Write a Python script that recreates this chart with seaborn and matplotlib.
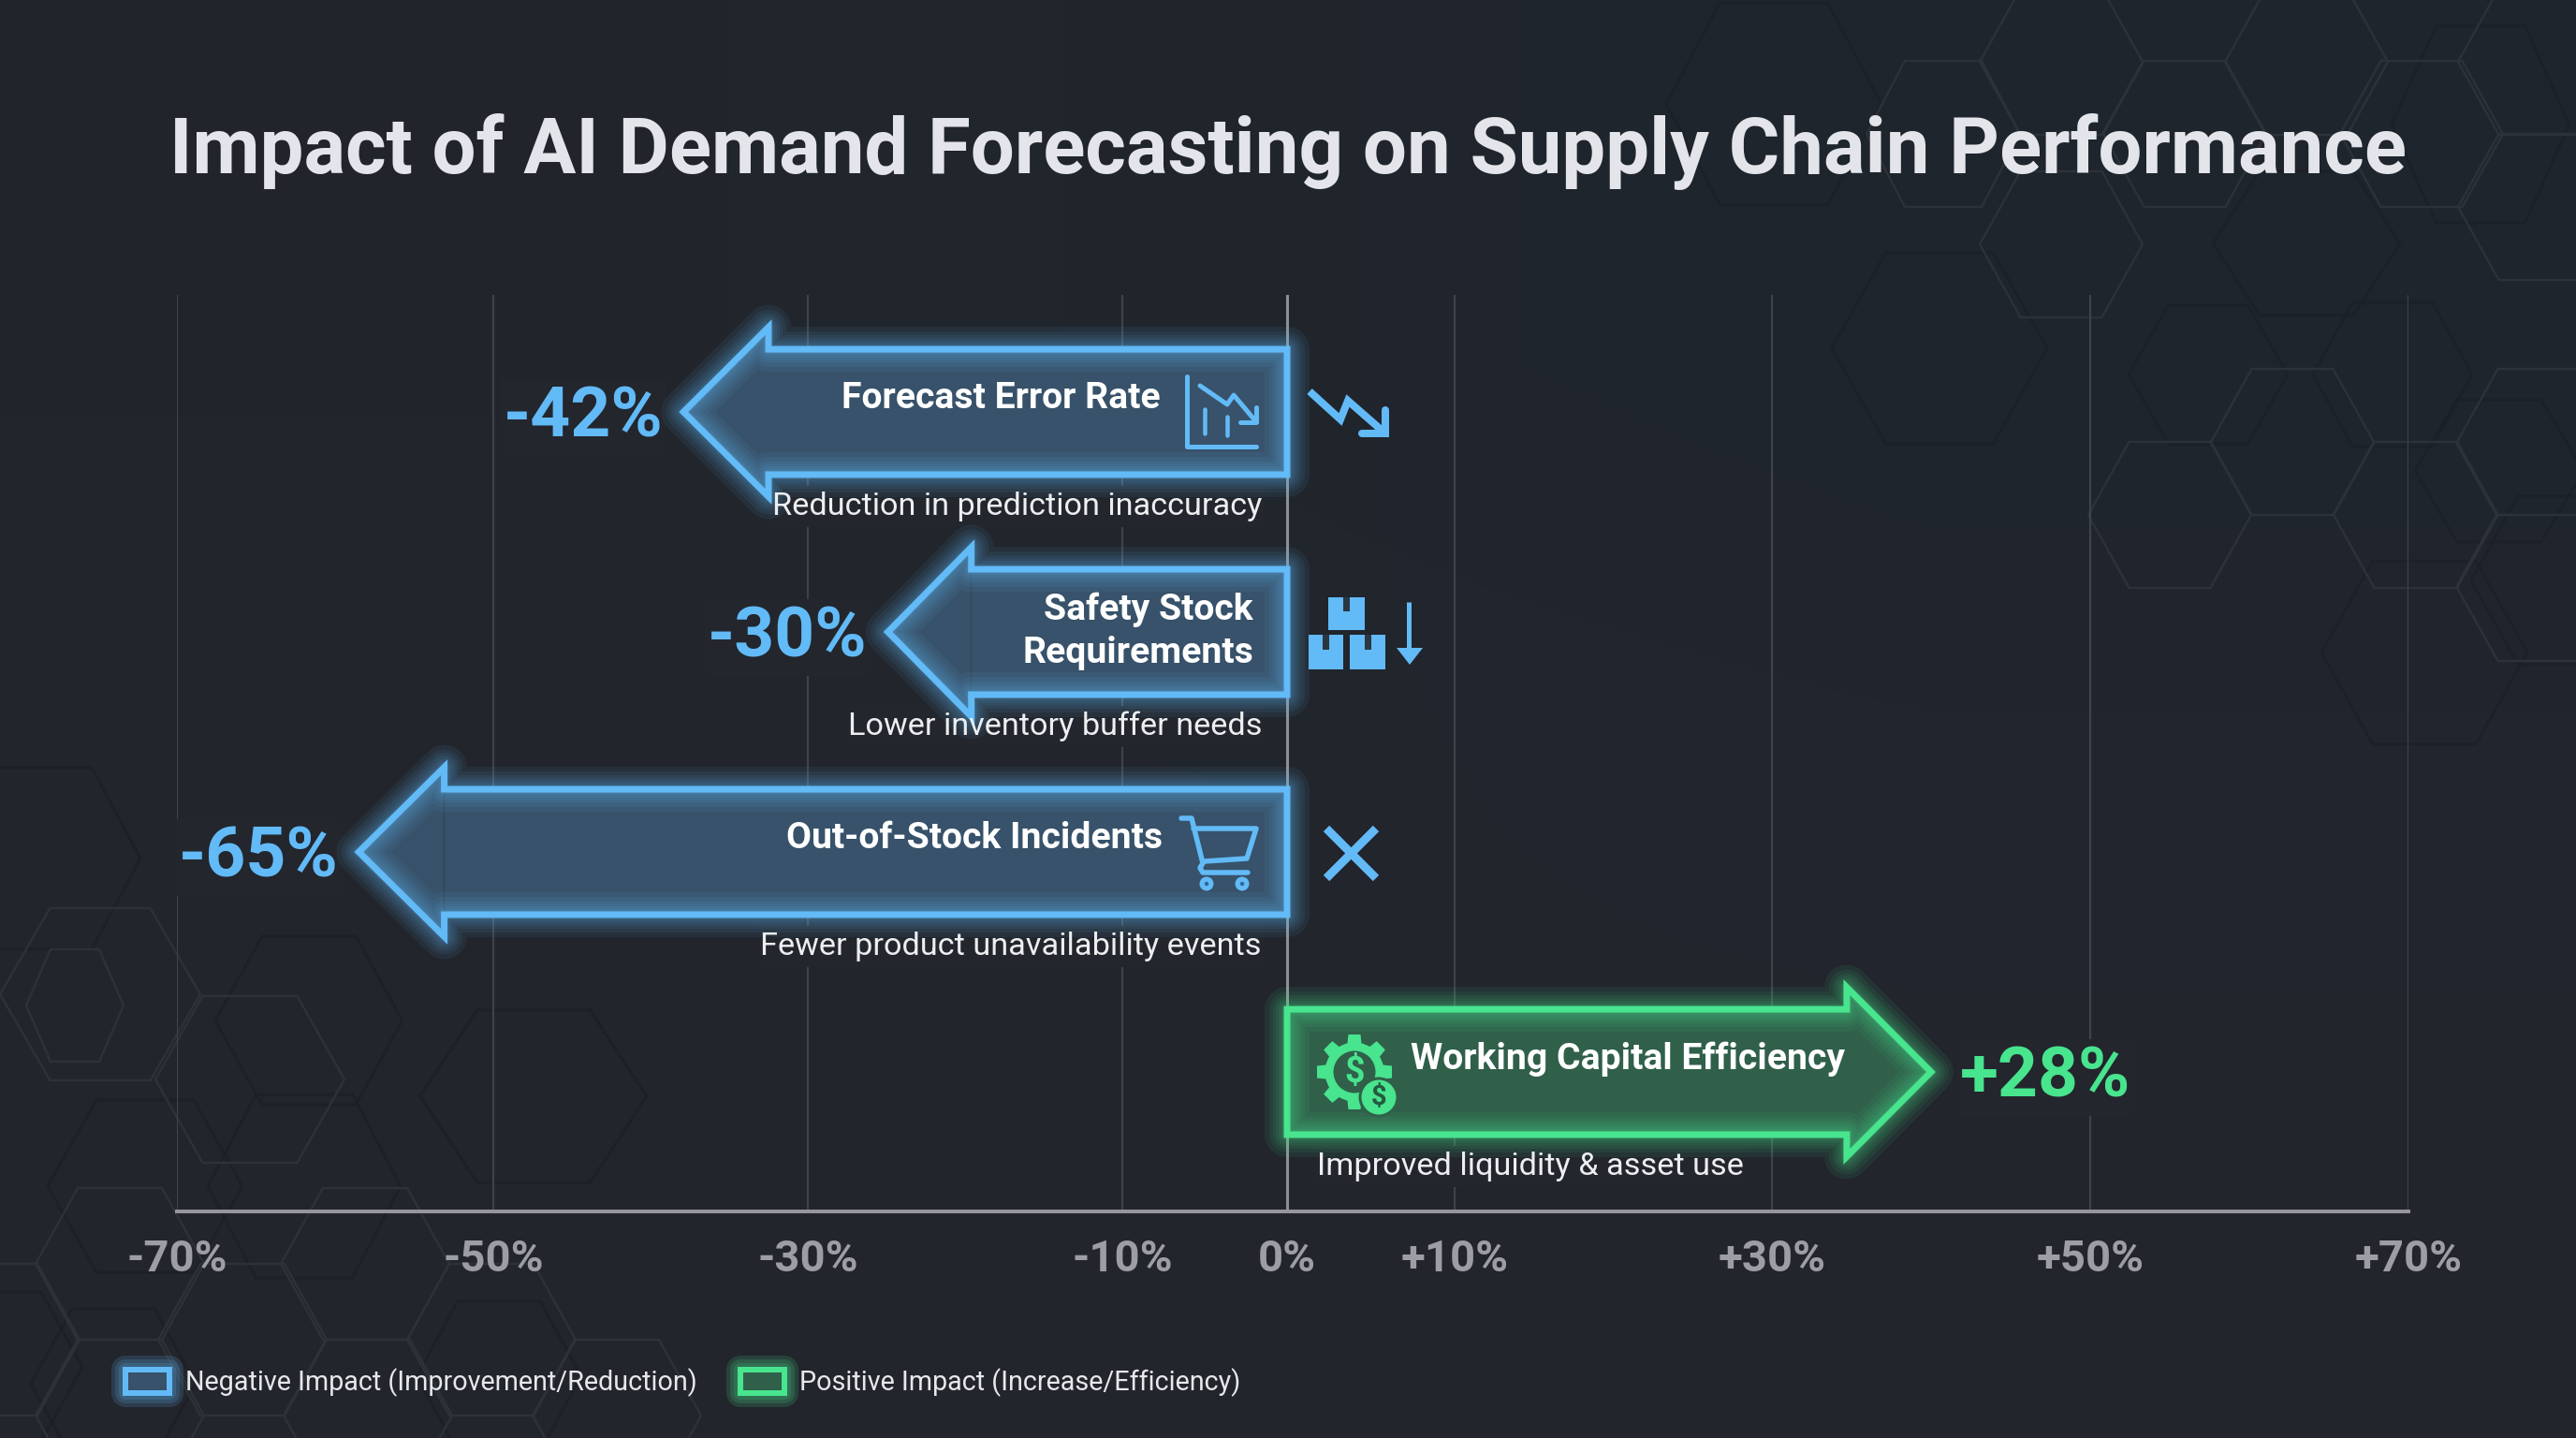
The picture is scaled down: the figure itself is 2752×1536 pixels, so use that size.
import numpy as np
import pandas as pd
import matplotlib.pyplot as plt
import seaborn as sns
from matplotlib.patches import Patch, Polygon, Circle, Rectangle
from matplotlib.patheffects import Stroke, Normal
from matplotlib.transforms import IdentityTransform

# chart data. the printed value and the drawn length differ in the source picture,
# so both are kept: arrow_tips / arrow_necks are read off the axis
metrics = ["Forecast Error Rate", "Safety Stock\nRequirements", "Out-of-Stock Incidents", "Working Capital Efficiency"]
subtitles = ["Reduction in prediction inaccuracy", "Lower inventory buffer needs",
             "Fewer product unavailability events", "Improved liquidity & asset use"]
value_labels = [-42, -30, -65, 28]
arrow_tips = [-37.9, -24.9, -58.5, 40.0]
arrow_necks = [-32.5, -19.6, -53.1, 34.7]
directions = ["neg", "neg", "neg", "pos"]

tick_values = [-70, -50, -30, -10, 0, 10, 30, 50, 70]
tick_labels = ["-70%", "-50%", "-30%", "-10%", "0%", "+10%", "+30%", "+50%", "+70%"]
# the source axis is slightly uneven, so the scale follows its ticks (pixels)
tick_spots = [189, 527, 863, 1199, 1375, 1554, 1893, 2233, 2573]

legend_labels = ["Negative Impact (Improvement/Reduction)", "Positive Impact (Increase/Efficiency)"]

BG = "#23262d"
BLUE = "#62baf7"
GREEN = "#48e48e"
LINE = {"neg": BLUE, "pos": GREEN}
FILL = {"neg": "#37526a", "pos": "#30604a"}
PX = 0.72  # one pixel in points at dpi 100

# background hexagons: x, y, half width, half height in pixels
light_hexes = [(267, 1153, 101, 89), (107, 1062, 107, 92), (80, 1074, 52, 60), (128, 1350, 90, 81),
               (390, 1350, 90, 81), (128, 1512, 90, 81), (393, 1512, 90, 81), (259, 1431, 90, 81),
               (525, 1431, 90, 81), (-5, 1431, 90, 81), (659, 1512, 90, 81),
               (2318, 550, 87, 78), (2449, 472, 87, 78), (2580, 550, 87, 78), (2712, 472, 87, 78),
               (2712, 628, 87, 78), (2076, 143, 82, 78), (2334, 143, 87, 78), (2587, 143, 87, 78),
               (2713, 221, 87, 78), (2202, 261, 87, 78), (2202, 66, 87, 78), (2464, 66, 87, 78),
               (2713, 66, 87, 78)]
dark_hexes = [(570, 1171, 121, 92), (325, 1267, 103, 98), (46, 917, 104, 97), (155, 1267, 104, 92),
              (533, 1470, 88, 80), (121, 1478, 88, 80), (0, 1460, 88, 80), (330, 1090, 100, 90),
              (1895, 111, 115, 108), (2072, 372, 115, 102), (2359, 400, 85, 74), (2556, 400, 85, 77),
              (2464, 260, 100, 77), (2670, 503, 90, 76), (2590, 697, 110, 98), (2740, 620, 100, 90),
              (2650, 133, 95, 105)]


def hex_points(cx, cy, r, h):
    return [(cx - r, cy), (cx - r / 2, cy - h), (cx + r / 2, cy - h),
            (cx + r, cy), (cx + r / 2, cy + h), (cx - r / 2, cy + h)]


def px_axes(fig, zorder):
    a = fig.add_axes([0, 0, 1, 1], zorder=zorder)
    a.set_xlim(0, 2752)
    a.set_ylim(1536, 0)
    a.axis("off")
    return a


def stroke(a, pts, color, width, cap="round", join="round"):
    xs, ys = zip(*pts)
    a.plot(xs, ys, color=color, lw=width * PX, solid_capstyle=cap, solid_joinstyle=join)


def draw_arrow(ax, row, neck, tip, half_body, half_head, color):
    outline = [(0, row - half_body), (neck, row - half_body), (neck, row - half_head), (tip, row),
               (neck, row + half_head), (neck, row + half_body), (0, row + half_body)]
    # soft glow, both sides of the line
    for w in [48, 38, 30, 24, 18, 13, 10]:
        ax.add_patch(Polygon(outline, closed=True, fill=False, edgecolor=color, lw=w * PX,
                             alpha=0.075, joinstyle="round", zorder=3))
    ax.add_patch(Polygon(outline, closed=True, fill=False, edgecolor=color, lw=7 * PX,
                         joinstyle="miter", zorder=4))


def mask_behind(ax, fig, text, pad_x=3, pad_y=6):
    bb = text.get_window_extent(fig.canvas.get_renderer())
    ax.add_patch(Rectangle((bb.x0 - pad_x, bb.y0 - pad_y), bb.width + 2 * pad_x, bb.height + 2 * pad_y,
                           transform=IdentityTransform(), facecolor=BG, edgecolor="none", zorder=1.5))


sns.set_theme(style="dark")
plt.rcParams["font.family"] = ["Roboto", "DejaVu Sans"]

fig = plt.figure(figsize=(27.52, 15.36), dpi=100, facecolor=BG)

# backdrop
back = px_axes(fig, 0)
back.imshow([[[0.133, 0.145, 0.172], [0.122, 0.149, 0.180]], [[0.137, 0.149, 0.176], [0.137, 0.149, 0.176]]],
            extent=(0, 2752, 1536, 0), interpolation="bilinear", aspect="auto")
for h in dark_hexes:
    back.add_patch(Polygon(hex_points(*h), closed=True, fill=False, edgecolor="#1c1f25", lw=3 * PX, alpha=0.7))
for h in light_hexes:
    back.add_patch(Polygon(hex_points(*h), closed=True, fill=False, edgecolor="#2d3138", lw=2.4 * PX))

# main chart, positioned on the reference's plot box
ax = fig.add_axes([189 / 2752, (1536 - 1294) / 1536, (2573 - 189) / 2752, (1294 - 315) / 1536], zorder=2)
ax.patch.set_alpha(0)

df = pd.DataFrame({"metric": metrics, "neck": arrow_necks, "direction": directions})
sns.barplot(data=df, y="metric", x="neck", hue="direction", palette=FILL, saturation=1, dodge=False,
            width=0.57, legend=False, linewidth=0, ax=ax, zorder=2)
ax.set_xscale("function", functions=(lambda v: np.interp(v, tick_values, tick_spots),
                                     lambda p: np.interp(p, tick_spots, tick_values)))
ax.set_xlim(-70, 70)
ax.set_ylim(3.634, -0.532)
ax.set_xlabel("")
ax.set_ylabel("")
ax.set_yticks([])
ax.set_xticks(tick_values)
ax.set_xticklabels(tick_labels, fontsize=34, fontweight="bold", color="#9c9ea3")
ax.xaxis.set_minor_locator(plt.NullLocator())
ax.tick_params(axis="x", length=0, pad=21)
ax.grid(axis="x", color="#3e4249", lw=2.2 * PX, zorder=1)
ax.set_axisbelow(True)
for side in ["top", "left", "right"]:
    ax.spines[side].set_visible(False)
ax.spines["bottom"].set_color("#94969b")
ax.spines["bottom"].set_linewidth(4 * PX)
ax.axvline(0, color="#8e9095", lw=3 * PX, zorder=1.8)

renderer_texts = []
for i, (tip, neck, d) in enumerate(zip(arrow_tips, arrow_necks, directions)):
    ax.fill([neck, tip, neck], [i - 0.385, i, i + 0.385], color=FILL[d], lw=0, zorder=2)
    draw_arrow(ax, i, neck, tip, 0.285, 0.385, LINE[d])

    side = 1 if d == "pos" else -1
    val = ax.annotate(f"{value_labels[i]:+d}%", (tip, i), xytext=(side * (31 if d == "pos" else 22) * PX, -6 * PX),
                      textcoords="offset points", ha="left" if d == "pos" else "right", va="center",
                      fontsize=54, fontweight="bold", color=LINE[d], zorder=6)
    sub = ax.annotate(subtitles[i], (0, i), xytext=((32 if d == "pos" else -27) * PX, -101 * PX),
                      textcoords="offset points", ha="left" if d == "pos" else "right", va="center",
                      fontsize=24.7, color="#eceef0", zorder=6)
    renderer_texts += [val, sub]

# category names sit at different distances from the zero line
name_x = [-135, -36, -133, 132]
name_y = [15, 1, 15, 14]
for i, name in enumerate(metrics):
    ax.annotate(name, (0, i), xytext=(name_x[i] * PX, name_y[i] * PX), textcoords="offset points",
                ha="left" if directions[i] == "pos" else "right", va="center", multialignment="right",
                fontsize=28.2, fontweight="semibold", color="white", linespacing=1.3, zorder=6)

fig.canvas.draw()
for t in renderer_texts:
    mask_behind(ax, fig, t)

fig.text(1376 / 2752, 1 - 162 / 1536, "Impact of AI Demand Forecasting on Supply Chain Performance",
         ha="center", va="center", fontsize=60, fontweight="bold", color="#e3e5ea")

# legend
handles = [Patch(facecolor=FILL[k], edgecolor=LINE[k], lw=6 * PX,
                 path_effects=[Stroke(linewidth=w * PX, foreground=LINE[k], alpha=0.16, joinstyle="round")
                               for w in [30, 22, 14]] + [Normal()])
           for k in ["neg", "pos"]]
fig.legend(handles, legend_labels, loc="center left", bbox_to_anchor=(134 / 2752, 1 - 1477 / 1536), ncol=2,
           frameon=False, fontsize=20.7, labelcolor="#e6e8ea", handlelength=1.64, handleheight=0.95,
           handletextpad=0.58, columnspacing=1.6, borderpad=0, borderaxespad=0)

# icons, drawn in pixel space
top = px_axes(fig, 3)
# chart icon
stroke(top, [(1268, 402), (1268, 477), (1342, 477)], BLUE, 5)
stroke(top, [(1287, 437), (1287, 463)], BLUE, 4.5)
stroke(top, [(1311, 445), (1311, 465)], BLUE, 4.5)
stroke(top, [(1282, 412), (1311, 432), (1318, 422), (1339, 447)], BLUE, 5)
stroke(top, [(1342, 435), (1342, 451), (1325, 451)], BLUE, 5)
# zigzag
stroke(top, [(1399, 418), (1432, 448), (1440, 428), (1480, 463)], BLUE, 8, cap="butt", join="miter")
stroke(top, [(1480, 438), (1480, 463), (1455, 463)], BLUE, 8, cap="round", join="miter")
# boxes and arrow
for x0, y0, w, h in [(1419, 638, 39, 35), (1398, 678, 37, 37), (1442, 678, 38, 37)]:
    top.add_patch(Rectangle((x0, y0), w, h, facecolor=BLUE, edgecolor="none"))
    top.add_patch(Rectangle((x0 + w / 2 - 3.5, y0), 7, h * 0.42, facecolor="#2a3640", edgecolor="none"))
stroke(top, [(1505, 643), (1505, 694)], BLUE, 5, cap="butt")
top.add_patch(Polygon([(1492, 692), (1520, 692), (1506, 710)], closed=True, facecolor=BLUE, edgecolor="none"))
# cart
stroke(top, [(1262, 874), (1273, 874), (1285, 922), (1282, 927), (1285, 932), (1333, 932)], BLUE, 5.5)
stroke(top, [(1275, 885), (1342, 885), (1332, 917), (1287, 920)], BLUE, 5.5)
for wx in [1289, 1327]:
    top.add_patch(Circle((wx, 944), 7.5, facecolor=BLUE, edgecolor="none"))
    top.add_patch(Circle((wx, 944), 2.2, facecolor="#2c6a96", edgecolor="none"))
# cross
stroke(top, [(1417, 885), (1470, 938)], BLUE, 9, cap="butt")
stroke(top, [(1470, 885), (1417, 938)], BLUE, 9, cap="butt")
# gear
gx, gy = 1447, 1145
for k in range(8):
    ang = np.pi * k / 4 + np.pi / 2
    c, s = np.cos(ang), np.sin(ang)
    corners = [(-8, 26), (8, 26), (6.5, 40), (-6.5, 40)]
    top.add_patch(Polygon([(gx + u * s + v * c, gy - u * c + v * s) for u, v in corners],
                          closed=True, facecolor=GREEN, edgecolor="none"))
top.add_patch(Circle((gx, gy), 27, facecolor="none", edgecolor=GREEN, lw=9 * PX))
top.text(gx, gy, "$", ha="center", va="center", fontsize=27, fontweight="bold", color=GREEN)
top.add_patch(Circle((1473, 1172), 20, facecolor=GREEN, edgecolor=FILL["pos"], lw=3 * PX))
top.text(1473, 1172, "$", ha="center", va="center", fontsize=21, fontweight="bold", color="#245a40")

fig.savefig("out.png", dpi=100, facecolor=BG)
